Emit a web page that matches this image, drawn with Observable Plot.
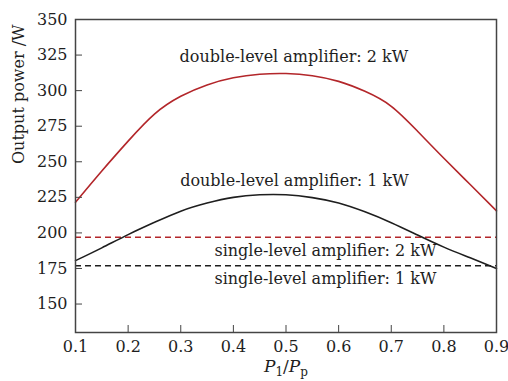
<!DOCTYPE html>
<html><head><meta charset="utf-8">
<script src="https://cdn.jsdelivr.net/npm/d3@7"></script>
<script src="https://cdn.jsdelivr.net/npm/@observablehq/plot@0.6"></script>
<style>body{margin:0;background:#fff}</style>
</head><body><div id="chart"></div>
<script>
const ratio = [0.1,0.15,0.2,0.25,0.3,0.35,0.4,0.45,0.5,0.55,0.6,0.65,0.7,0.75,0.8,0.85,0.9];
const double2kW = [221.5,243.5,264.5,283.5,296,304,309,311.5,312,310.5,306.5,299.5,289,271.5,252.5,234,215.5];
const double1kW = [180.5,189.5,198.8,207.4,215.3,221,225,226.8,226.8,224.8,221,214.8,207.2,198.5,190,182.5,175];
const single2kW = [197];
const single1kW = [177];
const xTicks = [0.1,0.2,0.3,0.4,0.5,0.6,0.7,0.8,0.9];
const yTicks = [150,175,200,225,250,275,300,325,350];
const labels = ["double-level amplifier: 2 kW","double-level amplifier: 1 kW","single-level amplifier: 2 kW","single-level amplifier: 1 kW"];
const labelX = [0.515,0.516,0.575,0.575];
const labelY = [324,236.5,187.5,167.5];
const xLabel = "P1/Pp";

const RED = "#b3262a", INK = "#1e1e1e";
const chart = Plot.plot({
  width: 508, height: 381,
  marginLeft: 75, marginRight: 12, marginTop: 19, marginBottom: 49,
  style: {fontFamily: "DejaVu Serif", fontSize: "16px", color: INK, background: "#fff"},
  x: {domain: [0.1, 0.9]},
  y: {domain: [130, 350]},
  marks: [
    Plot.ruleY(single2kW, {stroke: RED, strokeWidth: 1.5, strokeDasharray: "6,4"}),
    Plot.ruleY(single1kW, {stroke: INK, strokeWidth: 1.5, strokeDasharray: "6,4"}),
    Plot.line(ratio, {x: d => d, y: (d, i) => double2kW[i], curve: "natural", stroke: RED, strokeWidth: 1.6}),
    Plot.line(ratio, {x: d => d, y: (d, i) => double1kW[i], curve: "natural", stroke: INK, strokeWidth: 1.6}),
    Plot.text(labels, {x: (d, i) => labelX[i], y: (d, i) => labelY[i], text: d => d, fontSize: 16, fill: INK}),
    Plot.axisX({ticks: xTicks, tickSize: 7, dy: -7, text: null, label: null, stroke: "#444"}),
    Plot.axisX({ticks: xTicks, tickSize: 0, tickPadding: 8, label: null, fontSize: 16}),
    Plot.axisY({ticks: yTicks, tickSize: 7, dx: 7, text: null, label: null, stroke: "#444"}),
    Plot.axisY({ticks: yTicks, tickSize: 0, tickPadding: 8, label: null, fontSize: 16}),
    Plot.text(["Output power /W"], {frameAnchor: "left", text: d => d, rotate: -90, dx: -57, dy: -12, fontSize: 16, fill: INK}),
    Plot.text([xLabel], {frameAnchor: "bottom", text: d => d, dy: 39, fontSize: 17, fill: INK}),
    Plot.frame({stroke: "#444", strokeWidth: 1.5})
  ]
});
document.getElementById("chart").append(chart);
const t = Array.from(chart.querySelectorAll("text")).find(e => e.textContent === xLabel);
if (t) {
  t.textContent = "";
  const s = d3.select(t);
  s.append("tspan").attr("font-style", "italic").text("P");
  s.append("tspan").attr("font-size", 12).attr("dy", 4).text("1");
  s.append("tspan").attr("dy", -4).text("/");
  s.append("tspan").attr("font-style", "italic").text("P");
  s.append("tspan").attr("font-size", 12).attr("dy", 4).text("p");
}
</script></body></html>
